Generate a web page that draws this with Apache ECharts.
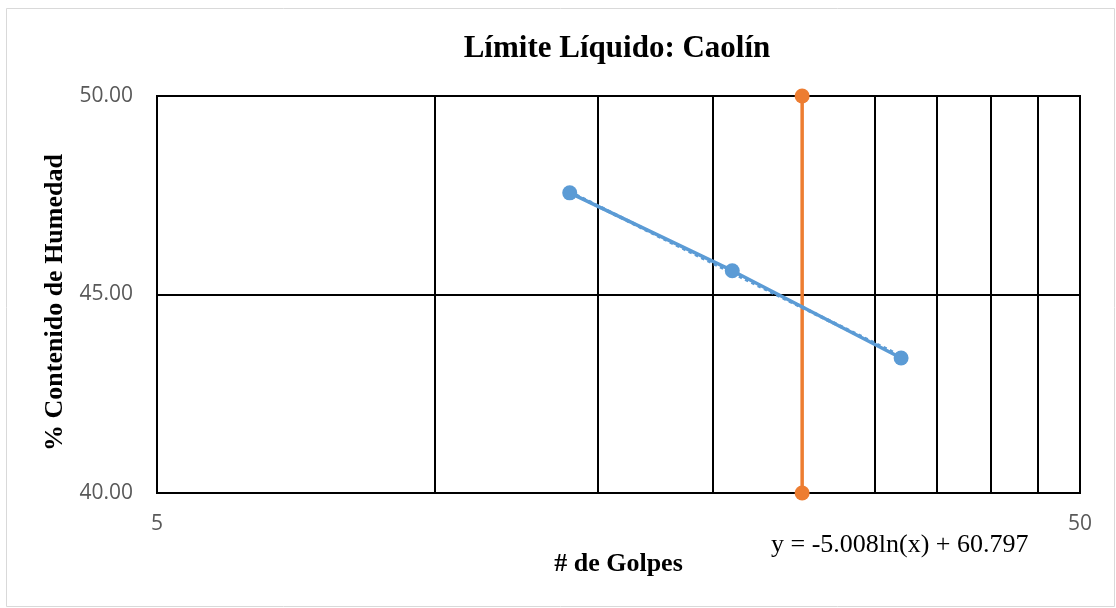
<!DOCTYPE html>
<html>
<head>
<meta charset="utf-8">
<script src="https://cdn.jsdelivr.net/npm/echarts@6/dist/echarts.min.js"></script>
<style>
  html, body { margin: 0; padding: 0; background: #fff; }
  #chart { width: 1116px; height: 608px; }
</style>
</head>
<body>
<div id="chart"></div>
<script>
// Liquid limit test: number of blows vs. moisture content
const golpes = [14, 21, 32];
const humedad = [47.56, 45.60, 43.40];

// Reference line at 25 blows
const golpesReferencia = [25, 25];
const humedadReferencia = [40, 50];

// Logarithmic fit y = a*ln(x) + b
const ajusteA = -5.008;
const ajusteB = 60.797;

// Vertical guides on the log axis
const guiasX = [10, 15, 20, 25, 30, 35, 40, 45];
const etiquetasX = [5, 50];
const ejeY = { min: 40, max: 50, step: 5 };

const xMin = Math.min(...golpes), xMax = Math.max(...golpes);
const tendencia = [
  [xMin, ajusteA * Math.log(xMin) + ajusteB],
  [xMax, ajusteA * Math.log(xMax) + ajusteB]
];

const serif = '"Liberation Serif", "Times New Roman", serif';
const sans = '"Open Sans", "Noto Sans", sans-serif';
const azul = '#5B9BD5';
const naranja = '#ED7D31';

const chart = echarts.init(document.getElementById('chart'), null, { renderer: 'canvas' });
chart.setOption({
  animation: false,
  backgroundColor: '#fff',
  title: [
    {
      text: 'Límite Líquido: Caolín',
      left: 612, top: 28, textAlign: 'center',
      textStyle: { fontFamily: serif, fontSize: 31, fontWeight: 'bold', color: '#000' }
    },
    {
      text: 'y = -5.008ln(x) + 60.797',
      left: 766, top: 527,
      textStyle: { fontFamily: serif, fontSize: 26, fontWeight: 'normal', color: '#000' }
    }
  ],
  graphic: [{
    type: 'rect', left: 4, top: 6,
    shape: { width: 1108, height: 598 },
    style: { fill: 'none', stroke: '#d9d9d9', lineWidth: 1 },
    silent: true
  }],
  grid: {
    left: 157, right: 36, top: 96, bottom: 115,
    show: true, borderColor: '#000', borderWidth: 2, backgroundColor: 'transparent'
  },
  xAxis: {
    type: 'log', logBase: 10, min: 5, max: 50,
    name: '# de Golpes', nameLocation: 'middle', nameGap: 58,
    nameTextStyle: { fontFamily: serif, fontSize: 26, fontWeight: 'bold', color: '#000' },
    axisLine: { show: true, lineStyle: { color: '#000', width: 2 } },
    axisTick: { show: false },
    splitLine: { show: false },
    axisLabel: {
      margin: 21, fontFamily: sans, fontSize: 21, color: '#595959',
      showMinLabel: true, showMaxLabel: true,
      formatter: v => etiquetasX.some(e => Math.abs(e - v) < 1e-6) ? String(Math.round(v)) : ''
    }
  },
  yAxis: {
    type: 'value', min: ejeY.min, max: ejeY.max, interval: ejeY.step,
    name: '% Contenido de Humedad', nameLocation: 'middle', nameGap: 88, nameRotate: 90,
    nameTextStyle: {
      fontFamily: serif, fontSize: 26, fontWeight: 'bold', color: '#000',
      padding: [0, 16, 0, 0]
    },
    axisLine: { show: true, lineStyle: { color: '#000', width: 2 } },
    axisTick: { show: false },
    splitLine: { show: true, lineStyle: { color: '#000', width: 2 } },
    axisLabel: {
      margin: 24, fontFamily: sans, fontSize: 21, color: '#595959',
      formatter: v => v.toFixed(2)
    }
  },
  series: [
    {
      name: 'guias', type: 'line', data: [], silent: true, z: 1,
      markLine: {
        silent: true, symbol: 'none', label: { show: false }, z: 1,
        lineStyle: { color: '#000', width: 2, type: 'solid' },
        emphasis: { disabled: true },
        data: guiasX.map(v => ({ xAxis: v }))
      }
    },
    {
      name: 'Referencia', type: 'line',
      data: golpesReferencia.map((x, i) => [x, humedadReferencia[i]]),
      symbol: 'circle', symbolSize: 15,
      lineStyle: { color: naranja, width: 3.5 },
      itemStyle: { color: naranja },
      z: 6
    },
    {
      name: 'Tendencia', type: 'line', data: tendencia,
      symbol: 'none',
      lineStyle: { color: azul, width: 3.5, type: 'dotted' },
      z: 7
    },
    {
      name: 'Humedad', type: 'line',
      data: golpes.map((x, i) => [x, humedad[i]]),
      symbol: 'circle', symbolSize: 15,
      lineStyle: { color: azul, width: 3.5 },
      itemStyle: { color: azul },
      z: 8
    }
  ]
});
</script>
</body>
</html>
